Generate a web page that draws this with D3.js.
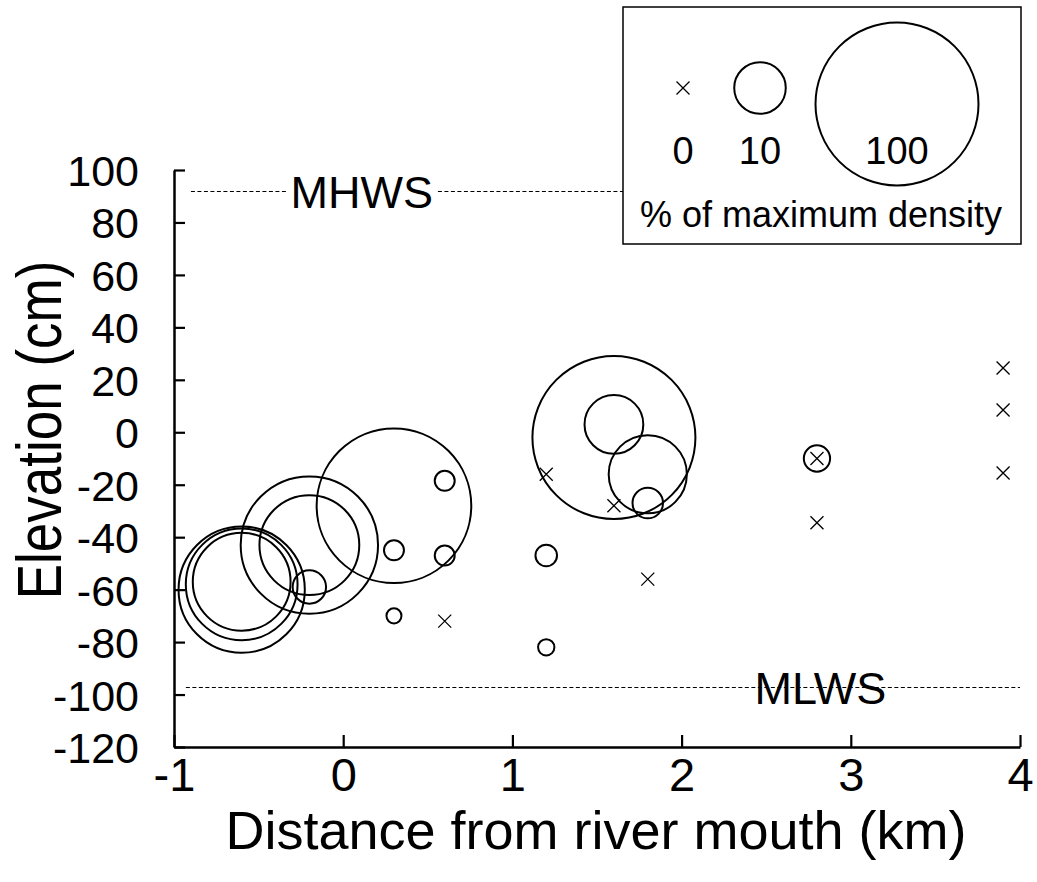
<!DOCTYPE html>
<html>
<head>
<meta charset="utf-8">
<script src="https://cdn.jsdelivr.net/npm/d3@7"></script>
<style>
  html, body { margin: 0; padding: 0; background: #fff; }
  svg { display: block; font-family: "Liberation Sans", Arial, Helvetica, sans-serif; }
</style>
</head>
<body>
<svg id="chart" width="1037" height="882"></svg>
<script>
// Sampling stations: distance from river mouth (km), elevation (cm), density (% of maximum)
const distanceKm = [-0.6, -0.6, -0.6, -0.2, -0.2, -0.2, 0.3, 0.3, 0.3, 0.6, 0.6, 0.6,
                    1.2, 1.2, 1.2, 1.6, 1.6, 1.6, 1.8, 1.8, 1.8, 2.8, 2.8, 2.8, 3.9, 3.9, 3.9];
const elevationCm = [-60, -58, -57, -43, -43, -59, -28, -45, -70, -18.5, -47, -72,
                     -16, -47, -82, -2, 3, -28, -16, -27, -56, -10, -10, -34.5, 24.5, 8.5, -15.5];
const densityPct = [60, 47, 36, 71, 37.5, 4.2, 90, 1.5, 0.85, 1.5, 1.5, 0,
                    0, 1.75, 1, 100, 13, 0, 23, 3.5, 0, 2.6, 0, 0, 0, 0, 0];

// Tidal reference levels
const tideNames = ["MHWS", "MLWS"];
const tideLevels = [92, -97];
const tideStart = [-0.9, -0.93];
const tideEnd = [1.66, 4];
const tideLabelAt = [0.11, 2.82];

// Axis ticks
const xTicks = [-1, 0, 1, 2, 3, 4];
const yTicks = [-120, -100, -80, -60, -40, -20, 0, 20, 40, 60, 80, 100];

// Size legend
const legendPct = [0, 10, 100];
const legendLabels = ["0", "10", "100"];

const svg = d3.select("#chart");

const x = d3.scaleLinear().domain([-1, 4]).range([174, 1020]);
const y = d3.scaleLinear().domain([-120, 100]).range([747, 170]);
const r = d3.scaleSqrt().domain([0, 100]).range([0, 81.5]);

const crossHalf = 6.5;
function crossPath(cx, cy) {
  return `M${cx - crossHalf},${cy - crossHalf}L${cx + crossHalf},${cy + crossHalf}` +
         `M${cx - crossHalf},${cy + crossHalf}L${cx + crossHalf},${cy - crossHalf}`;
}

const points = distanceKm.map((d, i) => ({ d, e: elevationCm[i], p: densityPct[i] }));

// Tide reference lines with their labels (snapped to the pixel grid for crisp dashes)
const tides = tideNames.map((name, i) => ({
  name, level: tideLevels[i], x0: tideStart[i], x1: tideEnd[i], lx: tideLabelAt[i]
}));
const tideG = svg.append("g");
tides.forEach(t => {
  const ly = Math.round(y(t.level)) + 0.5;
  tideG.append("line")
    .attr("x1", x(t.x0)).attr("x2", x(t.x1))
    .attr("y1", ly).attr("y2", ly)
    .attr("stroke", "#000").attr("stroke-width", 1)
    .attr("stroke-dasharray", "4,2.5");
  const txt = tideG.append("text")
    .attr("x", x(t.lx)).attr("y", ly)
    .attr("dy", "0.36em")
    .attr("text-anchor", "middle")
    .attr("font-size", 45)
    .text(t.name);
  const bb = txt.node().getBBox();
  tideG.insert("rect", "text")
    .attr("x", bb.x - 4).attr("y", ly - 4)
    .attr("width", bb.width + 8).attr("height", 8)
    .attr("fill", "#fff");
});

// Density circles (zero density shown as a cross)
const plot = svg.append("g");
plot.selectAll("circle.pt")
  .data(points.filter(p => p.p > 0))
  .join("circle")
  .attr("class", "pt")
  .attr("cx", p => x(p.d)).attr("cy", p => y(p.e))
  .attr("r", p => r(p.p))
  .attr("fill", "none").attr("stroke", "#000").attr("stroke-width", 2);

plot.selectAll("path.zero")
  .data(points.filter(p => p.p === 0))
  .join("path")
  .attr("class", "zero")
  .attr("d", p => crossPath(x(p.d), y(p.e)))
  .attr("fill", "none").attr("stroke", "#000").attr("stroke-width", 1.3);

// Axes with inward ticks
const yAxis = svg.append("g")
  .attr("transform", `translate(${x(-1)},0)`)
  .call(d3.axisLeft(y).tickValues(yTicks).tickSizeInner(-11).tickSizeOuter(0)
    .tickPadding(35).tickFormat(d => String(d)));
yAxis.select(".domain").attr("stroke-width", 2.5);
yAxis.selectAll(".tick line").attr("stroke-width", 2.2);
yAxis.selectAll(".tick text").attr("font-size", 43).attr("dy", "0.36em")
  .attr("font-family", null).attr("fill", "#000");

const xAxis = svg.append("g")
  .attr("transform", `translate(0,${y(-120)})`)
  .call(d3.axisBottom(x).tickValues(xTicks).tickSizeInner(-12).tickSizeOuter(0)
    .tickPadding(11).tickFormat(d => String(d)));
xAxis.select(".domain").attr("stroke-width", 2.5);
xAxis.selectAll(".tick line").attr("stroke-width", 2.2);
xAxis.selectAll(".tick text").attr("font-size", 47).attr("font-family", null).attr("fill", "#000");

// Axis titles
svg.append("text")
  .attr("x", 596).attr("y", 849)
  .attr("text-anchor", "middle")
  .attr("font-size", 54)
  .text("Distance from river mouth (km)");

svg.append("text")
  .attr("transform", "translate(61,430) rotate(-90) scale(1,1.18)")
  .attr("text-anchor", "middle")
  .attr("font-size", 53)
  .text("Elevation (cm)");

// Size legend
const leg = svg.append("g");
leg.append("rect")
  .attr("x", 623).attr("y", 7).attr("width", 398).attr("height", 237)
  .attr("fill", "#fff").attr("stroke", "#000").attr("stroke-width", 1.5);

const legX = [683, 760, 897];
const legY = [88, 88, 104];
legendPct.forEach((p, i) => {
  if (p === 0) {
    leg.append("path").attr("d", crossPath(legX[i], legY[i]))
      .attr("fill", "none").attr("stroke", "#000").attr("stroke-width", 1.3);
  } else {
    leg.append("circle").attr("cx", legX[i]).attr("cy", legY[i]).attr("r", r(p))
      .attr("fill", "none").attr("stroke", "#000").attr("stroke-width", 2);
  }
  leg.append("text")
    .attr("x", legX[i]).attr("y", 164)
    .attr("text-anchor", "middle")
    .attr("font-size", 38)
    .text(legendLabels[i]);
});
leg.append("text")
  .attr("x", 821).attr("y", 227)
  .attr("text-anchor", "middle")
  .attr("font-size", 36)
  .text("% of maximum density");
</script>
</body>
</html>
